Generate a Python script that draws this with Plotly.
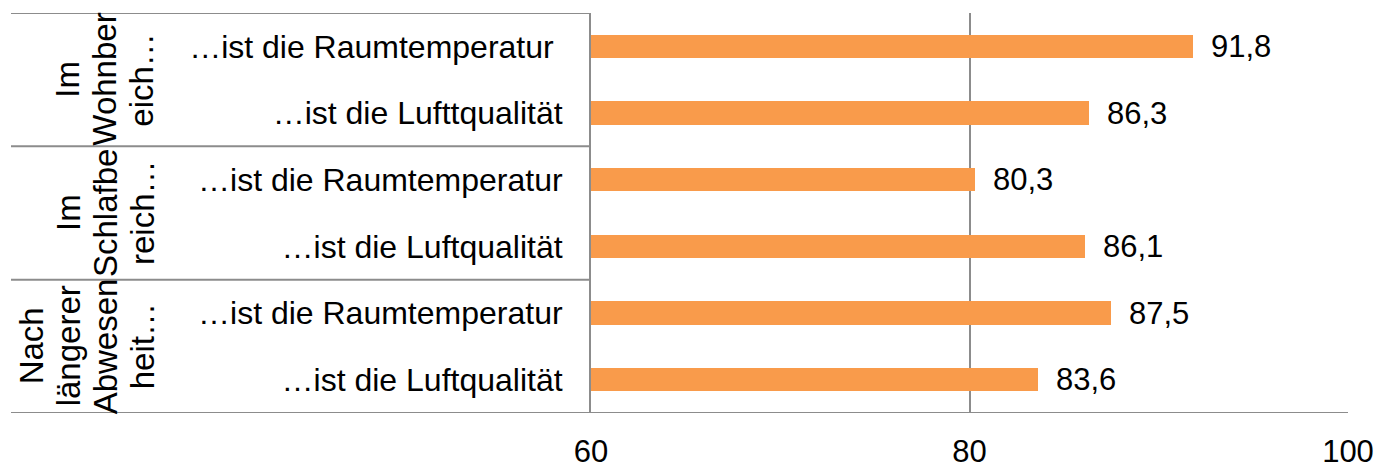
import plotly.graph_objects as go

# ---- data ----
categories = [
    "…ist die Raumtemperatur\u00a0",
    "…ist die Lufttqualität",
    "…ist die Raumtemperatur",
    "…ist die Luftqualität",
    "…ist die Raumtemperatur",
    "…ist die Luftqualität",
]
values = [91.8, 86.3, 80.3, 86.1, 87.5, 83.6]
group_lines = [
    ["Im", "Wohnber", "eich…"],
    ["Im", "Schlafbe", "reich…"],
    ["Nach", "längerer", "Abwesen", "heit…"],
]
group_sizes = [2, 2, 2]
x_ticks = [60, 80, 100]

# ---- layout constants ----
W, H = 1377, 463
L = 591
T = 13
R = W - 1348
B = H - 413
PW = W - L - R
FONT = "Liberation Sans, Arial, sans-serif"
GRID = "#8C8C8C"
BAR = "#F99B4B"

def px_to_paper(page_px):
    return (page_px - L) / PW

rows = list(range(len(values)))

fig = go.Figure()
fig.add_trace(go.Bar(
    x=values, y=rows, orientation="h",
    marker=dict(color=BAR, line=dict(width=0)),
    width=0.35, hoverinfo="skip",
))

annotations = []
for v, r in zip(values, rows):
    annotations.append(dict(
        x=v, y=r, xref="x", yref="y", text=f"{v:.1f}".replace(".", ","),
        showarrow=False, xanchor="left", yanchor="middle", xshift=16,
        font=dict(family=FONT, size=31, color="black"),
    ))

# group labels (rotated)
line_x_px_right = 142
line_step = 37
start = 0
shapes = []
for gi, (lines, size) in enumerate(zip(group_lines, group_sizes)):
    yc = start + (size - 1) / 2
    n = len(lines)
    for li, word in enumerate(lines):
        xpx = line_x_px_right - (n - 1 - li) * line_step
        annotations.append(dict(
            x=px_to_paper(xpx), y=yc, xref="paper", yref="y", text=word,
            showarrow=False, textangle=-90, xanchor="center", yanchor="middle",
            font=dict(family=FONT, size=33, color="black"),
        ))
    start += size

# separator lines in the category area
left_paper = px_to_paper(11)
bounds = [-0.5]
acc = -0.5
for s in group_sizes:
    acc += s
    bounds.append(acc)
for i, b in enumerate(bounds):
    x1 = 1 if i == len(bounds) - 1 else 0
    shapes.append(dict(
        type="line", xref="paper", yref="y", x0=left_paper, x1=x1, y0=b, y1=b,
        line=dict(color=GRID, width=2), layer="above",
    ))

fig.update_layout(
    width=W, height=H,
    margin=dict(l=L, r=R, t=T, b=B, pad=0, autoexpand=False),
    paper_bgcolor="white", plot_bgcolor="white",
    showlegend=False,
    bargap=0,
    annotations=annotations,
    shapes=shapes,
    font=dict(family=FONT, size=31, color="black"),
    xaxis=dict(
        range=[60, 100], tickvals=x_ticks, ticktext=[str(t) for t in x_ticks],
        showgrid=True, gridcolor=GRID, gridwidth=2,
        showline=False, zeroline=False, ticks="",
        ticklabelstandoff=17, automargin=False,
        tickfont=dict(family=FONT, size=31, color="black"),
        fixedrange=True,
    ),
    yaxis=dict(
        range=[5.5, -0.5], tickvals=rows, ticktext=categories,
        showgrid=False, zeroline=False, showline=True, linecolor=GRID, linewidth=2,
        ticks="", ticklabelstandoff=20, automargin=False,
        tickfont=dict(family=FONT, size=32, color="black"),
        fixedrange=True,
    ),
)

fig.write_html(
    "out.html",
    config={"displayModeBar": False},
    post_script="document.body.style.margin='0';document.body.style.overflow='hidden';",
)
